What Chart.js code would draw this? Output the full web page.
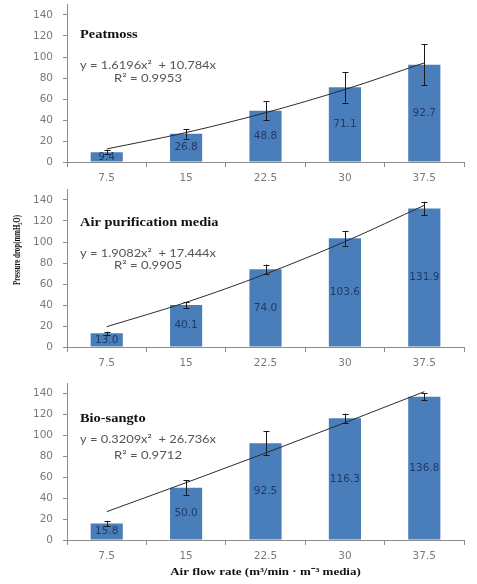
<!DOCTYPE html>
<html>
<head>
<meta charset="utf-8">
<script src="https://cdn.jsdelivr.net/npm/chart.js@4"></script>
<style>
  html, body { margin: 0; padding: 0; background: #fff; }
  #wrap { position: relative; width: 477px; height: 584px; overflow: hidden; }
  .panel { position: absolute; left: 0; width: 477px; }
</style>
</head>
<body>
<div id="wrap">
  <div class="panel" style="top:0px;height:185px"><canvas id="c1" width="477" height="185"></canvas></div>
  <div class="panel" style="top:185px;height:185px"><canvas id="c2" width="477" height="185"></canvas></div>
  <div class="panel" style="top:370px;height:214px"><canvas id="c3" width="477" height="214"></canvas></div>
</div>
<script>
// ---- data ----
const categories = ['7.5', '15', '22.5', '30', '37.5'];
const yTickValues = [0, 20, 40, 60, 80, 100, 120, 140];

const peatValues = [9.4, 26.8, 48.8, 71.1, 92.7];
const peatErrors = [2, 4.5, 9, 14.5, 19.5];
const peatTrend  = [12.4, 28.05, 46.93, 69.05, 94.41];

const airValues = [13.0, 40.1, 74.0, 103.6, 131.9];
const airErrors = [1.5, 3, 4.5, 7, 6.5];
const airTrend  = [19.35, 42.52, 69.51, 100.31, 134.93];

const bioValues = [15.8, 50.0, 92.5, 116.3, 136.8];
const bioErrors = [2.5, 7, 11.5, 4.5, 3.5];
const bioTrend  = [27.06, 54.76, 83.10, 112.08, 141.70];

const panelTitles = ['Peatmoss', 'Air purification media', 'Bio-sangto'];
const equations   = ['y = 1.6196x\u00B2  + 10.784x', 'y = 1.9082x\u00B2  + 17.444x', 'y = 0.3209x\u00B2  + 26.736x'];
const rSquared    = ['R\u00B2 = 0.9953', 'R\u00B2 = 0.9905', 'R\u00B2 = 0.9712'];
const yAxisTitle  = 'Pressure drop(mmH\u2082O)';
const xAxisTitle  = 'Air flow rate (m\u00B3/min \u00B7 m\u207B\u00B3 media)';

// ---- styling ----
const BAR_COLOR = '#4a7ebb';
const AXIS_COLOR = '#8c8c8c';
const TICK_FONT = { family: '"DejaVu Sans", sans-serif', size: 10.5 };
const SERIF_STRETCH = 1.2;

const overlayPlugin = {
  id: 'overlay',
  afterDatasetsDraw(chart) {
    const o = chart.options.plugins.overlay;
    const ctx = chart.ctx;
    const ys = chart.scales.y;
    const meta = chart.getDatasetMeta(0);
    ctx.save();
    // value labels
    ctx.fillStyle = '#1f3a66';
    ctx.font = '10.5px "DejaVu Sans", sans-serif';
    ctx.textAlign = 'center';
    ctx.textBaseline = 'middle';
    meta.data.forEach((bar, i) => {
      const v = chart.data.datasets[0].data[i];
      const cy = (bar.y + bar.base) / 2;
      ctx.fillText(v.toFixed(1), bar.x, cy);
    });
    // error bars
    ctx.strokeStyle = '#1a1a1a';
    ctx.lineWidth = 1;
    meta.data.forEach((bar, i) => {
      const v = chart.data.datasets[0].data[i];
      const e = o.errors[i];
      const x = Math.round(bar.x) + 0.5;
      const yt = ys.getPixelForValue(v + e);
      const yb = ys.getPixelForValue(v - e);
      ctx.beginPath();
      ctx.moveTo(x, yt); ctx.lineTo(x, yb);
      ctx.moveTo(x - 3, Math.round(yt) + 0.5); ctx.lineTo(x + 3, Math.round(yt) + 0.5);
      ctx.moveTo(x - 3, Math.round(yb) + 0.5); ctx.lineTo(x + 3, Math.round(yb) + 0.5);
      ctx.stroke();
    });
    // panel title & equation
    const left = chart.chartArea.left;
    ctx.textAlign = 'left';
    ctx.textBaseline = 'middle';
    ctx.fillStyle = '#111';
    ctx.font = 'bold 12px "Liberation Serif", "DejaVu Serif", serif';
    drawStretch(ctx, o.title, left + 13, ys.getPixelForValue(o.titleY), SERIF_STRETCH);
    ctx.fillStyle = '#555';
    ctx.font = '11px Lato, "Open Sans", sans-serif';
    drawFit(ctx, o.eq, left + 13, ys.getPixelForValue(o.eqY), 136);
    drawFit(ctx, o.r2, left + 47, ys.getPixelForValue(o.r2Y), 68);
    // axis titles
    ctx.fillStyle = '#111';
    if (o.yTitle) {
      ctx.save();
      ctx.translate(17, o.yTitleCenter);
      ctx.rotate(-Math.PI / 2);
      ctx.font = 'bold 10px "Liberation Serif", serif';
      ctx.textAlign = 'center';
      const w = ctx.measureText(o.yTitle).width;
      ctx.scale(70 / w, 1);
      ctx.fillText(o.yTitle, 0, 0);
      ctx.restore();
    }
    if (o.xTitle) {
      ctx.font = 'bold 11px "Liberation Serif", serif';
      ctx.textAlign = 'center';
      drawStretch(ctx, o.xTitle, (chart.chartArea.left + chart.chartArea.right) / 2, chart.chartArea.bottom + 32, 1.18);
    }
    ctx.restore();
  }
};

function drawFit(ctx, text, x, y, width) {
  const w = ctx.measureText(text).width;
  drawStretch(ctx, text, x, y, width / w);
}

function drawStretch(ctx, text, x, y, sx) {
  ctx.save();
  ctx.translate(x, y);
  ctx.scale(sx, 1);
  ctx.fillText(text, 0, 0);
  ctx.restore();
}

function makeChart(id, values, errors, trend, idx, opts) {
  return new Chart(document.getElementById(id), {
    type: 'bar',
    data: {
      labels: categories,
      datasets: [
        { type: 'bar', data: values, backgroundColor: BAR_COLOR, borderWidth: 0,
          barPercentage: 0.9, categoryPercentage: 0.45, order: 2 },
        { type: 'line', data: trend, borderColor: '#2b2b2b', borderWidth: 1,
          pointRadius: 0, fill: false, cubicInterpolationMode: 'monotone', order: 1 }
      ]
    },
    options: {
      responsive: false,
      animation: false,
      events: [],
      layout: { padding: { top: opts.padTop, right: 13, left: 0, bottom: 0 } },
      plugins: {
        legend: { display: false },
        tooltip: { enabled: false },
        overlay: {
          errors: errors,
          title: panelTitles[idx], eq: equations[idx], r2: rSquared[idx],
          titleY: opts.titleY, eqY: opts.eqY, r2Y: opts.r2Y,
          yTitle: opts.yTitle, yTitleCenter: opts.yTitleCenter, xTitle: opts.xTitle
        }
      },
      scales: {
        x: {
          grid: { display: true, drawOnChartArea: false, drawTicks: true, tickLength: 5, color: AXIS_COLOR, offset: true },
          border: { color: AXIS_COLOR },
          ticks: { color: '#7a7a7a', font: TICK_FONT, padding: 5, maxRotation: 0 },
          afterFit(scale) { scale.height = opts.xHeight; scale.paddingLeft = 0; scale.paddingRight = 0; }
        },
        y: {
          min: 0, max: 150,
          grid: { display: true, drawOnChartArea: false, drawTicks: true, tickLength: 4, color: AXIS_COLOR },
          border: { color: AXIS_COLOR },
          ticks: { color: '#7a7a7a', font: TICK_FONT, padding: 10 },
          afterBuildTicks(scale) { scale.ticks = yTickValues.map(v => ({ value: v })); },
          afterFit(scale) { scale.width = 67; scale.paddingTop = 0; scale.paddingBottom = 0; }
        }
      }
    },
    plugins: [overlayPlugin]
  });
}

makeChart('c1', peatValues, peatErrors, peatTrend, 0,
  { padTop: 4.5, xHeight: 23, titleY: 121, eqY: 91.5, r2Y: 80 });
makeChart('c2', airValues, airErrors, airTrend, 1,
  { padTop: 4.5, xHeight: 23, titleY: 118, eqY: 89, r2Y: 78, yTitle: yAxisTitle, yTitleCenter: 65 });
makeChart('c3', bioValues, bioErrors, bioTrend, 2,
  { padTop: 13, xHeight: 44, titleY: 116, eqY: 96, r2Y: 81, xTitle: xAxisTitle });
</script>
</body>
</html>
